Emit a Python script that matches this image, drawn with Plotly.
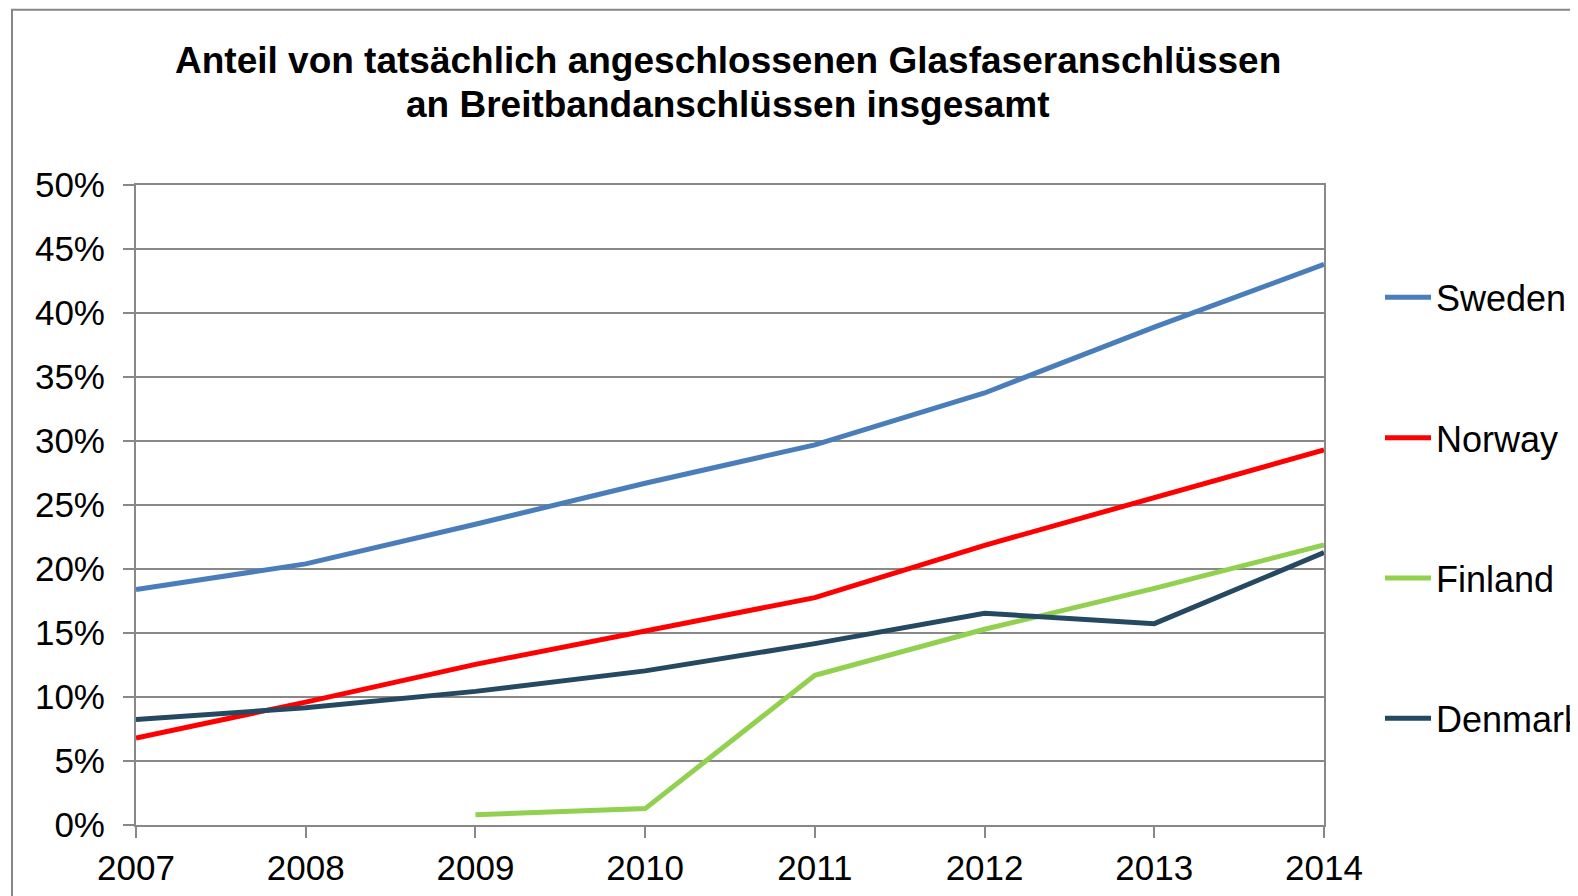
import plotly.graph_objects as go

years = ["2007", "2008", "2009", "2010", "2011", "2012", "2013", "2014"]
sweden = [0.184, 0.204, 0.235, 0.267, 0.297, 0.3375, 0.389, 0.438]
norway = [0.068, 0.096, 0.1255, 0.1515, 0.1776, 0.2185, 0.256, 0.293]
finland = [None, None, 0.0081, 0.0128, 0.1169, 0.1529, 0.1849, 0.2188]
denmark = [0.0825, 0.0916, 0.1044, 0.1204, 0.1417, 0.1654, 0.1573, 0.2128]
title_lines = [
    "Anteil von tatsächlich angeschlossenen Glasfaseranschlüssen",
    "an Breitbandanschlüssen insgesamt",
]

series = [
    ("Sweden", sweden, "#4a7ebb"),
    ("Norway", norway, "#ff0000"),
    ("Finland", finland, "#92d050"),
    ("Denmark", denmark, "#254961"),
]

FONT = "Liberation Sans, Arial, sans-serif"
GRID = "#888888"

fig = go.Figure()
for i, (name, vals, col) in enumerate(series):
    fig.add_trace(go.Scatter(
        x=list(range(len(years))), y=vals, name=name, mode="lines",
        line=dict(color=col, width=5),
        legendgroup=f"g{i}", connectgaps=False,
    ))

OFF = 8  # page body margin
W, H = 1578, 896
# desired plot-area edges in page pixels
PL, PR, PT, PB = 136, 1324, 184.5, 825
L, R, T, B = PL - OFF, PR - OFF, PT - OFF, PB - OFF


def px_x(page_x):
    return (page_x - PL) / (PR - PL)


def px_y(page_y):
    return (PB - page_y) / (PB - PT)


title_y = [60, 104]
for line, yy in zip(title_lines, title_y):
    fig.add_annotation(
        text=f"<b>{line}</b>", x=px_x(728), y=px_y(yy), xref="paper", yref="paper",
        xanchor="center", yanchor="middle", showarrow=False,
        font=dict(family=FONT, size=37, color="black"),
    )

fig.update_layout(
    width=W, height=H,
    margin=dict(l=L, r=W - R, t=T, b=H - B, autoexpand=False),
    paper_bgcolor="white", plot_bgcolor="white",
    font=dict(family=FONT, color="black", size=35),
    showlegend=True,
    legend=dict(
        x=px_x(1380), xanchor="left",
        y=px_y(298 - 31), yanchor="top",
        font=dict(family=FONT, size=36, color="black"),
        tracegroupgap=90.5, bgcolor="rgba(0,0,0,0)",
        itemwidth=46,
    ),
    xaxis=dict(
        range=[0, 7], tickmode="array", tickvals=list(range(len(years))), ticktext=years,
        showgrid=False, showline=True, linecolor=GRID, linewidth=2,
        ticks="outside", ticklen=11, tickcolor=GRID, tickwidth=2,
        zeroline=False, mirror=True,
        tickfont=dict(family=FONT, size=35, color="black"),
    ),
    yaxis=dict(
        range=[0, 0.5], tick0=0, dtick=0.05, tickformat=".0%",
        showgrid=True, gridcolor=GRID, gridwidth=2,
        showline=True, linecolor=GRID, linewidth=2, mirror=True,
        ticks="outside", ticklen=11, tickcolor=GRID, tickwidth=2,
        zeroline=False, ticklabelstandoff=11,
        tickfont=dict(family=FONT, size=35, color="black"),
    ),
)

# outer chart border
fig.add_shape(
    type="rect", xref="paper", yref="paper",
    x0=px_x(12), x1=px_x(1700),
    y0=px_y(1100), y1=px_y(9),
    line=dict(color="#868686", width=2), fillcolor="rgba(0,0,0,0)", layer="below",
)

fig.write_html("out.html")
